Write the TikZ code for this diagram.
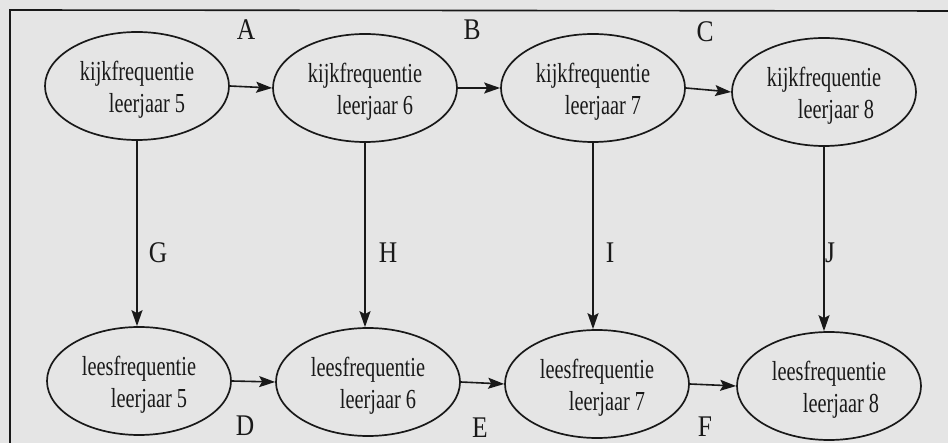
\documentclass[tikz,border=0pt]{standalone}
\usepackage{fontspec}
\usetikzlibrary{shapes.geometric,arrows.meta}
\newfontfamily\boxfont[FakeStretch=0.74]{Liberation Serif}
\newfontfamily\tagfont[FakeStretch=0.85]{Liberation Serif}
\definecolor{paper}{RGB}{229,229,229}
\definecolor{ink}{RGB}{25,25,25}
\newcommand{\lowstrut}{\rule{0pt}{26pt}}
\tikzset{
  stage/.style={ellipse, draw=ink, line width=1.7pt, minimum width=184pt, minimum height=108pt,
    inner sep=0pt, align=center, text=ink, font=\boxfont\fontsize{27.5}{32}\selectfont},
  flow/.style={draw=ink, line width=1.6pt, -{Stealth[length=16pt,width=11pt,inset=3pt]}},
  tag/.style={text=ink, font=\tagfont\fontsize{30}{30}\selectfont, inner sep=0pt}
}
\begin{document}
\begin{tikzpicture}[x=1pt,y=-1pt]
  % page background and frame
  \fill[paper] (0,0) rectangle (948,443);
  \useasboundingbox (0,0) rectangle (948,443);
  \draw[ink, line width=1.6pt] (10,450) -- (10,10) -- (960,11);

  % viewing frequency, grades 5 to 8
  \node[stage] (k5) at (137,86) {\lowstrut kijkfrequentie\\\hspace*{20pt}leerjaar 5};
  \node[stage] (k6) at (365,88) {\lowstrut kijkfrequentie\\\hspace*{20pt}leerjaar 6};
  \node[stage] (k7) at (593,88) {\lowstrut kijkfrequentie\\\hspace*{20pt}leerjaar 7};
  \node[stage] (k8) at (824,92) {\lowstrut kijkfrequentie\\\hspace*{24pt}leerjaar 8};

  % reading frequency, grades 5 to 8
  \node[stage] (l5) at (139,381) {\lowstrut leesfrequentie\\\hspace*{20pt}leerjaar 5};
  \node[stage] (l6) at (368,382) {\lowstrut leesfrequentie\\\hspace*{20pt}leerjaar 6};
  \node[stage] (l7) at (597,384) {\lowstrut leesfrequentie\\\hspace*{20pt}leerjaar 7};
  \node[stage] (l8) at (829,386) {\lowstrut leesfrequentie\\\hspace*{24pt}leerjaar 8};

  % stability paths
  \draw[flow] (k5.east) -- (k6.west);
  \draw[flow] (k6.east) -- (k7.west);
  \draw[flow] (k7.east) -- (k8.west);
  \draw[flow] (l5.east) -- (l6.west);
  \draw[flow] (l6.east) -- (l7.west);
  \draw[flow] (l7.east) -- (l8.west);

  % cross paths from viewing to reading
  \draw[flow] (k5.south) -- (k5.south |- l5.north);
  \draw[flow] (k6.south) -- (k6.south |- l6.north);
  \draw[flow] (k7.south) -- (k7.south |- l7.north);
  \draw[flow] (k8.south) -- (k8.south |- l8.north);

  % path labels
  \node[tag] (ta) at (246,30) {A};
  \node[tag] (tb) at (472,30) {B};
  \node[tag] (tc) at (705,32) {C};
  \node[tag] (td) at (245,426) {D};
  \node[tag] (te) at (480,428) {E};
  \node[tag] (tf) at (705,427) {F};
  \node[tag] (tg) at (158,253) {G};
  \node[tag] (th) at (388,253) {H};
  \node[tag] (ti) at (610,253) {I};
  \node[tag] (tj) at (830,253) {J};
\end{tikzpicture}
\end{document}
